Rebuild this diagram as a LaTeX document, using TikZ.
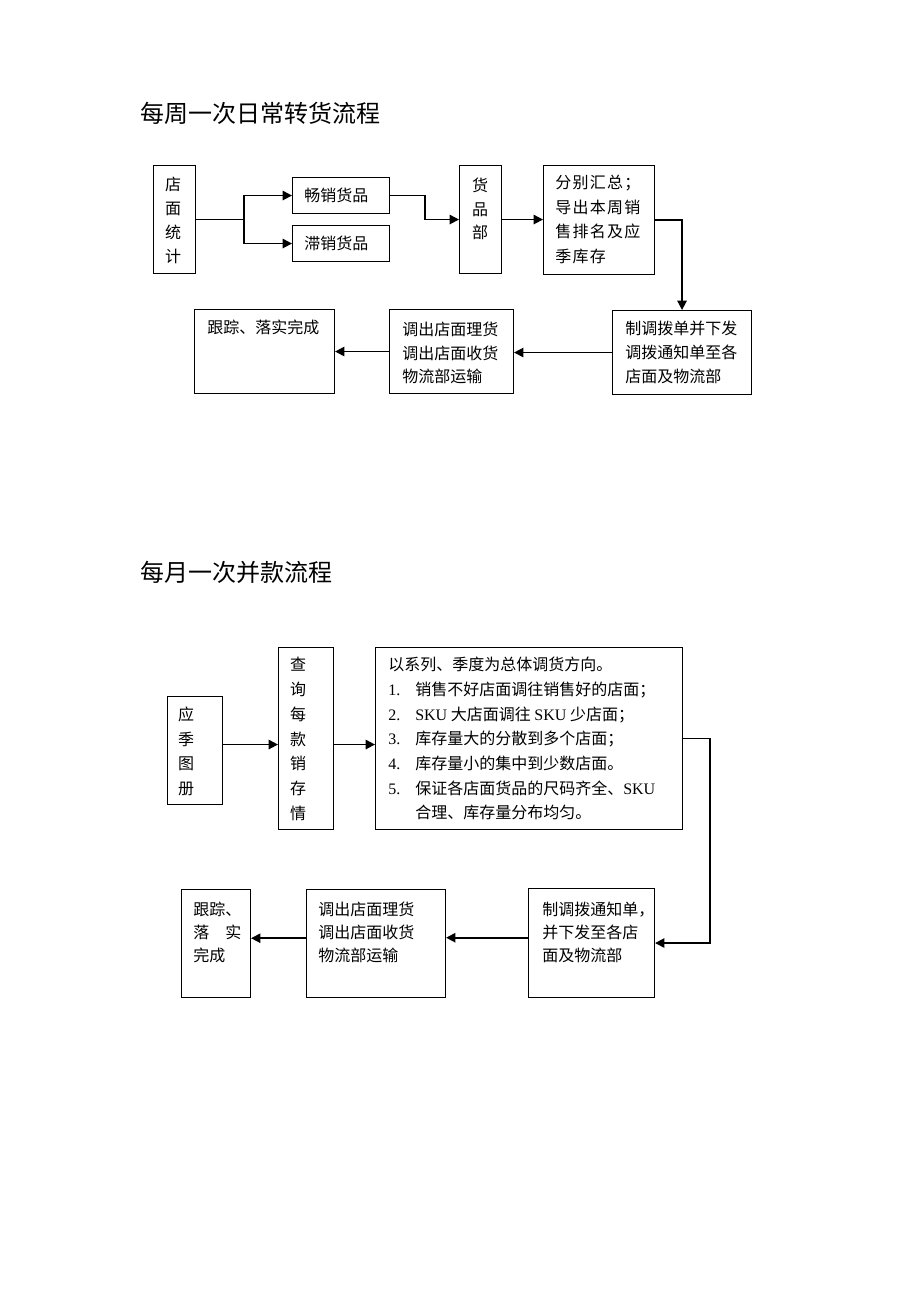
\documentclass[tikz,border=0pt]{standalone}
\usepackage{fontspec}
\setmainfont{Noto Sans CJK SC}
\newfontfamily\lat{Liberation Serif}
\newfontfamily\cjksp[LetterSpace=8]{Noto Sans CJK SC}
\usetikzlibrary{arrows.meta}
\newcommand\mybox[5]{\node[box, minimum width={(#4-#2)*0.75pt}, minimum height={(#5-#3)*0.75pt}] (#1) at (#2,#3) {};}
\newcommand\nb[1]{\makebox[20.25pt][l]{\lat #1}}
\begin{document}
\begin{tikzpicture}[x=0.75pt,y=-0.75pt,
  box/.style={draw, line width=0.8pt, inner sep=0, anchor=north west},
  txt/.style={inner sep=0, font=\fontsize{12pt}{18pt}\selectfont, align=left, anchor=north west},
  vtxt/.style={inner sep=0, font=\fontsize{12pt}{18pt}\selectfont, align=center, anchor=north},
  ttl/.style={inner sep=0, font=\fontsize{18pt}{22pt}\selectfont, anchor=west},
  conn/.style={line width=1.3pt},
  arr/.style={conn, -{Triangle[length=7pt,width=7pt]}}]
\useasboundingbox[fill=white] (0,0) rectangle (920,1302);

% ---------- Section 1 ----------
\node[ttl] (title1) at (140,113) {每周一次日常转货流程};

\mybox{dm}{153}{165}{195}{273}
\mybox{cx}{292}{177}{389}{213}
\mybox{zx}{292}{225}{389}{261}
\mybox{hp}{459}{165}{501}{273}
\mybox{fb}{543}{165}{654}{274}
\mybox{zd}{612}{310}{751}{394}
\mybox{dc}{389}{309}{513}{393}
\mybox{gz}{194}{309}{334}{393}

\node[vtxt] (tdm) at (173,177) {店\\面\\统\\计};
\node[txt, anchor=west] (tcx) at (304,195) {畅销货品};
\node[txt, anchor=west] (tzx) at (304,243) {滞销货品};
\node[vtxt, font=\fontsize{12pt}{17.6pt}\selectfont] (thp) at (480,178) {货\\品\\部};
\node[txt, font=\fontsize{12pt}{18.4pt}\cjksp] (tfb) at (555,175) {分别汇总；\\导出本周销\\售排名及应\\季库存};
\node[txt] (tzd) at (625,321) {制调拨单并下发\\调拨通知单至各\\店面及物流部};
\node[txt, font=\fontsize{12pt}{17.6pt}\selectfont] (tdc) at (402,322) {调出店面理货\\调出店面收货\\物流部运输};
\node[txt] (tgz) at (207,320) {跟踪、落实完成};

\draw[conn] (dm.east) -- ++(48,0) coordinate (br);
\draw[arr] (br) |- (cx.west);
\draw[arr] (br) |- (zx.west);
\draw[arr] (cx.east) -- ++(35,0) |- (hp.west);
\draw[arr] (hp.east) -- (hp.east -| fb.west);
\draw[arr] (fb.east) -| (zd.north);
\draw[arr] (zd.west) -- (zd.west -| dc.east);
\draw[arr] (dc.west) -- (dc.west -| gz.east);

% ---------- Section 2 ----------
\node[ttl] (title2) at (140,572) {每月一次并款流程};

\mybox{yj}{167}{696}{222}{804}
\mybox{cq}{278}{647}{333}{829}
\mybox{big}{375}{647}{682}{829}
\mybox{zd2}{528}{888}{654}{997}
\mybox{dc2}{306}{889}{445}{997}
\mybox{gz2}{181}{889}{250}{997}

\node[vtxt, font=\fontsize{12pt}{18.4pt}\selectfont] (tyj) at (186,707) {应\\季\\图\\册};
\node[vtxt, font=\fontsize{12pt}{18.6pt}\selectfont] (tcq) at (298,657) {查\\询\\每\\款\\销\\存\\情};
\node[txt, font=\fontsize{12pt}{18.5pt}\selectfont] (tbig) at (388,657) {以系列、季度为总体调货方向。\\
\nb{1.}销售不好店面调往销售好的店面；\\
\nb{2.}{\lat SKU} 大店面调往 {\lat SKU} 少店面；\\
\nb{3.}库存量大的分散到多个店面；\\
\nb{4.}库存量小的集中到少数店面。\\
\nb{5.}保证各店面货品的尺码齐全、{\lat SKU}\\
\nb{}合理、库存量分布均匀。};
\node[txt, font=\fontsize{12pt}{17.3pt}\selectfont] (tzd2) at (542,902) {制调拨通知单，\\并下发至各店\\面及物流部};
\node[txt, font=\fontsize{12pt}{17.3pt}\selectfont] (tdc2) at (318,902) {调出店面理货\\调出店面收货\\物流部运输};
\node[txt, font=\fontsize{12pt}{17.3pt}\selectfont] (tgz2) at (193,902) {跟踪、\\落\hspace{1em}实\\完成};

\draw[arr] ([yshift=4.5pt]yj.east) -- ([yshift=4.5pt]yj.east -| cq.west);
\draw[arr] ([yshift=-4.5pt]cq.east) -- ([yshift=-4.5pt]cq.east -| big.west);
\draw[arr] (big.east) -- ++(27,0) |- (zd2.east);
\draw[arr] ([yshift=4pt]zd2.west) -- ([yshift=4pt]zd2.west -| dc2.east);
\draw[arr] ([yshift=4pt]dc2.west) -- ([yshift=4pt]dc2.west -| gz2.east);
\end{tikzpicture}
\end{document}
